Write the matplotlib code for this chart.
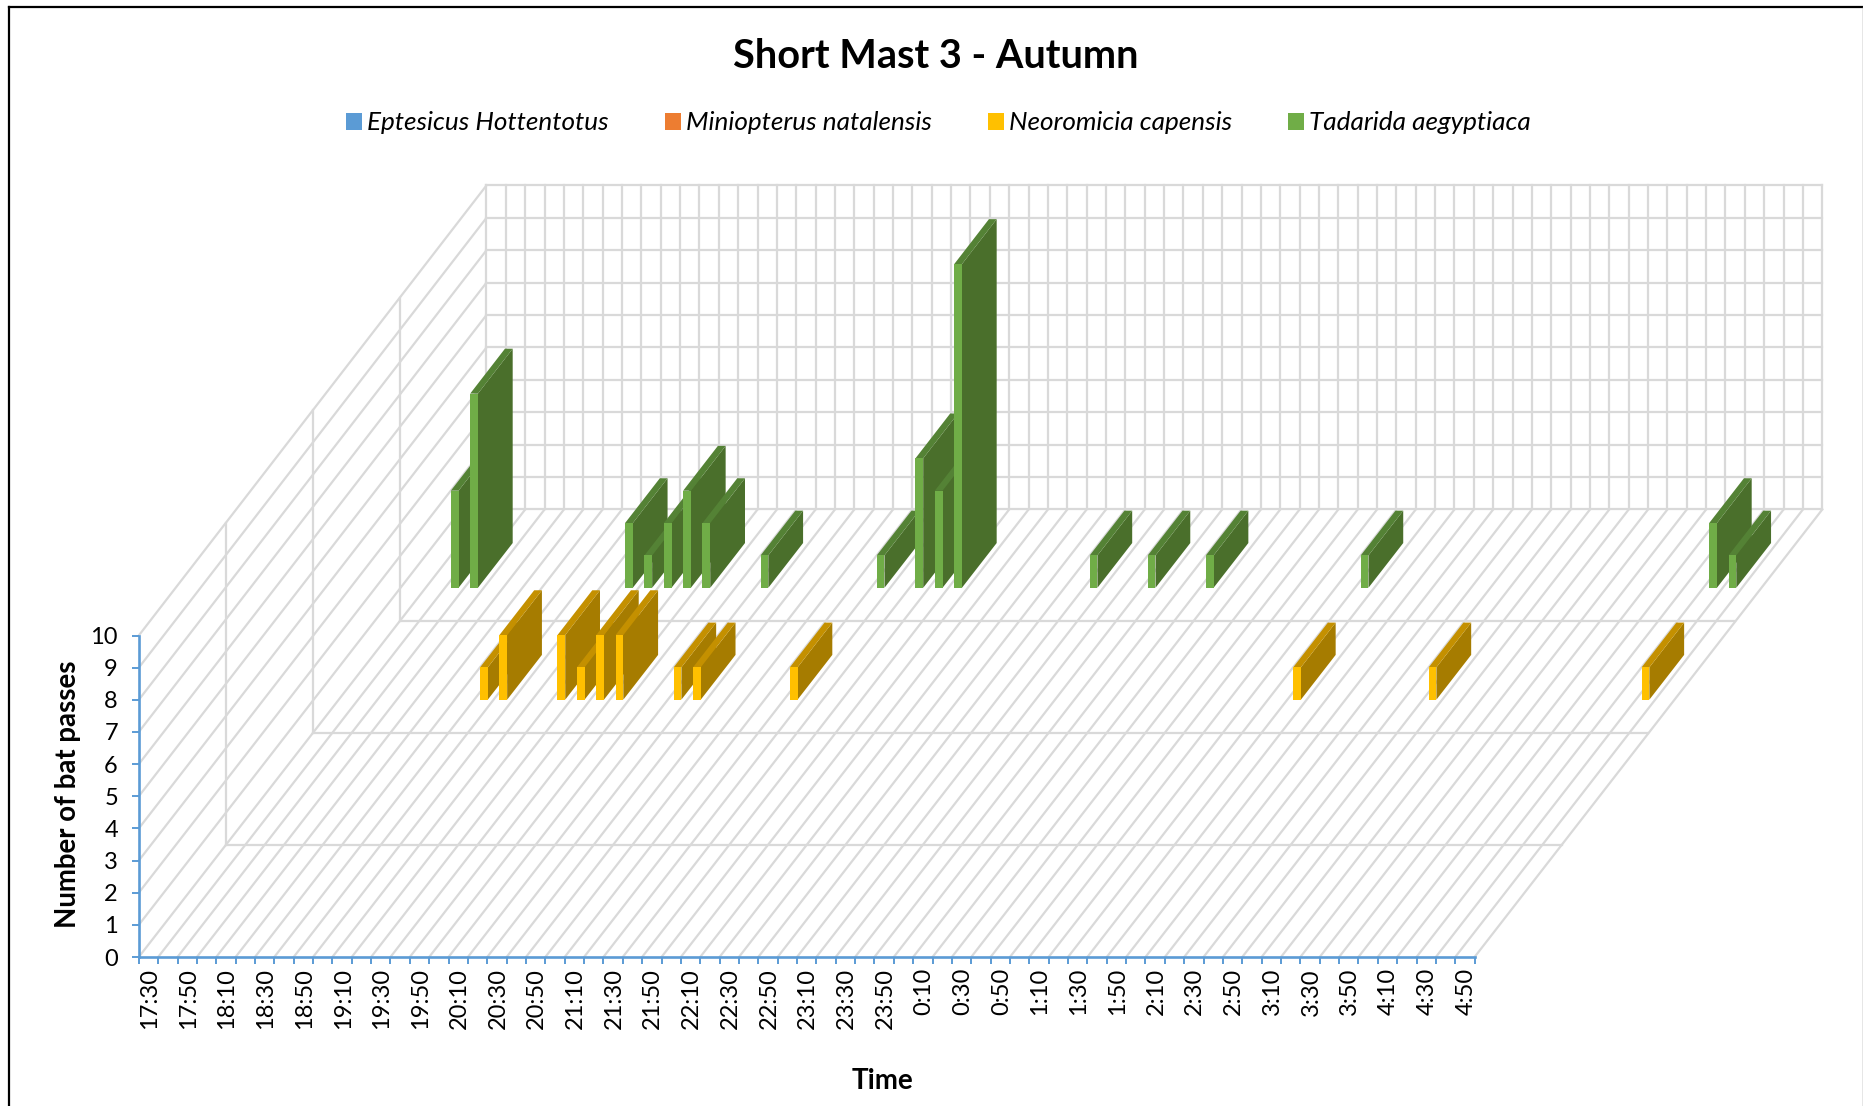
import matplotlib
matplotlib.use("Agg")
import matplotlib.pyplot as plt
from matplotlib.patches import Polygon, Patch
from matplotlib.lines import Line2D

categories = [
    "17:30","17:40","17:50","18:00","18:10","18:20","18:30","18:40","18:50","19:00",
    "19:10","19:20","19:30","19:40","19:50","20:00","20:10","20:20","20:30","20:40",
    "20:50","21:00","21:10","21:20","21:30","21:40","21:50","22:00","22:10","22:20",
    "22:30","22:40","22:50","23:00","23:10","23:20","23:30","23:40","23:50","0:00",
    "0:10","0:20","0:30","0:40","0:50","1:00","1:10","1:20","1:30","1:40",
    "1:50","2:00","2:10","2:20","2:30","2:40","2:50","3:00","3:10","3:20",
    "3:30","3:40","3:50","4:00","4:10","4:20","4:30","4:40","4:50",
]
eptesicus = [0] * 69
miniopterus = [0] * 69
neoromicia = [
    0,0,0,0,0,0,0,1,2,0,
    0,2,1,2,2,0,0,1,1,0,
    0,0,0,1,0,0,0,0,0,0,
    0,0,0,0,0,0,0,0,0,0,
    0,0,0,0,0,0,0,0,0,1,
    0,0,0,0,0,0,1,0,0,0,
    0,0,0,0,0,0,0,1,0,
]
tadarida = [
    0,3,6,0,0,0,0,0,0,0,
    2,1,2,3,2,0,0,1,0,0,
    0,0,0,1,0,4,3,10,0,0,
    0,0,0,0,1,0,0,1,0,0,
    1,0,0,0,0,0,0,0,1,0,
    0,0,0,0,0,0,0,0,0,0,
    0,0,0,0,0,0,2,1,0,
]
series_names = ["Eptesicus Hottentotus", "Miniopterus natalensis",
                "Neoromicia capensis", "Tadarida aegyptiaca"]
series_values = [eptesicus, miniopterus, neoromicia, tadarida]
front_colors = ["#5B9BD5", "#ED7D31", "#FFC000", "#70AD47"]
side_colors = ["#3C6791", "#A65A22", "#A67C00", "#4A6F2B"]
top_colors = ["#4A80B0", "#C46A28", "#C49000", "#548235"]

W, H = 1863, 1106
plt.rcParams["font.family"] = ["Lato", "DejaVu Sans"]
fig = plt.figure(figsize=(W / 100, H / 100), dpi=100)
fig.patch.set_facecolor("white")

# axes = front plane of the chart: x in categories, y in bat passes
x0, x1, y_base, y_top = 138.8, 1474.6, 957.0, 635.5
ax = fig.add_axes([x0 / W, 1 - y_base / H, (x1 - x0) / W, (y_base - y_top) / H])
ax.set_xlim(0, 69)
ax.set_ylim(0, 10)
ax.patch.set_alpha(0)

# oblique depth: shift per series slot, in data units, with a slight perspective growth
DX = 4.49
DY = 3.48
GROW = 0.002
N_SLOTS = 4
MAXV = 10
NCAT = len(categories)


def pr(cat, val, depth):
    return (cat + depth * DX, val * (1 + GROW * depth) + depth * DY)


GRID = "#D9D9D9"
LW = 1.6


def gline(a, b, z=1):
    ax.add_line(Line2D([a[0], b[0]], [a[1], b[1]], color=GRID, lw=LW,
                       clip_on=False, zorder=z, solid_capstyle="projecting"))


# back wall
for v in range(MAXV + 1):
    gline(pr(0, v, N_SLOTS), pr(NCAT, v, N_SLOTS))
for c in range(NCAT + 1):
    gline(pr(c, 0, N_SLOTS), pr(c, MAXV, N_SLOTS))
# left wall
for v in range(1, MAXV + 1):
    gline(pr(0, v, 0), pr(0, v, N_SLOTS))
for s in range(1, N_SLOTS):
    gline(pr(0, 0, s), pr(0, MAXV, s))
# floor
for c in range(NCAT + 1):
    gline(pr(c, 0, 0), pr(c, 0, N_SLOTS))
for s in range(1, N_SLOTS):
    gline(pr(0, 0, s), pr(NCAT, 0, s))

# bars, back series first, left to right
GAP = 0.3
BAR = 0.4
DEPTH_GAP = 0.3
DEPTH_BAR = 0.4
z = 3.0
for s in range(N_SLOTS - 1, -1, -1):
    d0 = s + DEPTH_GAP
    d1 = d0 + DEPTH_BAR
    for c, v in enumerate(series_values[s]):
        if v <= 0:
            continue
        l, r = c + GAP, c + GAP + BAR
        side = [pr(r, 0, d0), pr(r, 0, d1), pr(r, v, d1), pr(r, v, d0)]
        top = [pr(l, v, d0), pr(r, v, d0), pr(r, v, d1), pr(l, v, d1)]
        front = [pr(l, 0, d0), pr(r, 0, d0), pr(r, v, d0), pr(l, v, d0)]
        for pts, col in ((side, side_colors[s]), (top, top_colors[s]), (front, front_colors[s])):
            ax.add_patch(Polygon(pts, closed=True, facecolor=col, edgecolor="none",
                                 lw=0, clip_on=False, zorder=z))
            z += 0.001

# axes
for name in ("top", "right"):
    ax.spines[name].set_visible(False)
for name in ("left", "bottom"):
    ax.spines[name].set_color("#5B9BD5")
    ax.spines[name].set_linewidth(1.9)
    ax.spines[name].set_zorder(2.5)
ax.set_yticks(range(MAXV + 1))
ax.tick_params(axis="y", which="major", length=5, width=1.4, color="#5B9BD5",
               labelsize=17, pad=10, labelcolor="black")
ax.set_xticks(range(NCAT + 1))
ax.tick_params(axis="x", which="major", length=5, width=1.4, color="#5B9BD5", labelbottom=False)
ax.set_xticks([c + 0.55 for c in range(0, NCAT, 2)], minor=True)
ax.set_xticklabels(categories[::2], minor=True, rotation=90, fontsize=17)
ax.tick_params(axis="x", which="minor", length=0, pad=8, labelcolor="black")

ax.set_ylabel("Number of bat passes", fontsize=19.9, fontweight="bold", color="black")
ax.yaxis.set_label_coords(68.5 / W, 1 - 794 / H, transform=fig.transFigure)
ax.set_xlabel("Time", fontsize=20, fontweight="bold", color="black")
ax.xaxis.set_label_coords(882 / W, 1 - 1081 / H, transform=fig.transFigure)
ax.xaxis.label.set_va("center")
ax.yaxis.label.set_va("center")

fig.text(936 / W, 1 - 56.5 / H, "Short Mast 3 - Autumn", fontsize=28.5, fontweight="bold",
         ha="center", va="center", color="black")

handles = [Patch(facecolor=c, edgecolor="none") for c in front_colors]
fig.legend(handles, series_names, ncol=4, loc="center", bbox_to_anchor=(938.5 / W, 1 - 123 / H),
           frameon=False, prop={"size": 18.8, "style": "italic"},
           handlelength=0.6, handleheight=0.6, handletextpad=0.2, columnspacing=2.15)

# chart frame
for xs, ys, col, w in (([9, 9], [6.5, H], "black", 1.6),
                       ([9, W], [6.5, 6.5], "black", 1.6),
                       ([W - 0.5, W - 0.5], [6.5, H], "#808080", 1.0)):
    fig.add_artist(Line2D([x / W for x in xs], [1 - y / H for y in ys], color=col, lw=w,
                          transform=fig.transFigure))

fig.savefig("out.png", dpi=100)
